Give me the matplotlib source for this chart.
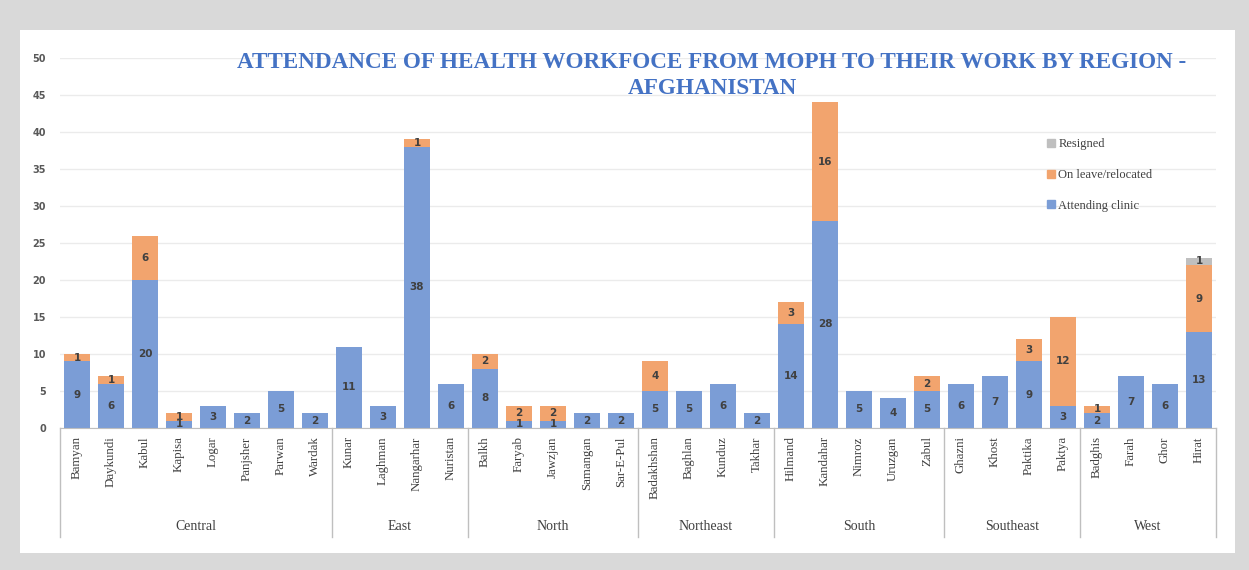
import matplotlib.pyplot as plt
from matplotlib.patches import Rectangle, Patch
from matplotlib.transforms import blended_transform_factory

# provinces grouped by region
regions = ["Central", "East", "North", "Northeast", "South", "Southeast", "West"]
region_sizes = [8, 4, 5, 4, 5, 4, 4]
provinces = ["Bamyan", "Daykundi", "Kabul", "Kapisa", "Logar", "Panjsher", "Parwan", "Wardak",
             "Kunar", "Laghman", "Nangarhar", "Nuristan",
             "Balkh", "Faryab", "Jawzjan", "Samangan", "Sar-E-Pul",
             "Badakhshan", "Baghlan", "Kunduz", "Takhar",
             "Hilmand", "Kandahar", "Nimroz", "Uruzgan", "Zabul",
             "Ghazni", "Khost", "Paktika", "Paktya",
             "Badghis", "Farah", "Ghor", "Hirat"]

attending = [9, 6, 20, 1, 3, 2, 5, 2,
             11, 3, 38, 6,
             8, 1, 1, 2, 2,
             5, 5, 6, 2,
             14, 28, 5, 4, 5,
             6, 7, 9, 3,
             2, 7, 6, 13]
on_leave = [1, 1, 6, 1, 0, 0, 0, 0,
            0, 0, 1, 0,
            2, 2, 2, 0, 0,
            4, 0, 0, 0,
            3, 16, 0, 0, 2,
            0, 0, 3, 12,
            1, 0, 0, 9]
resigned = [0] * 33 + [1]

blue = "#7b9dd6"
orange = "#f2a46e"
grey = "#bfbfbf"
txt = "#404040"

W, H = 1249, 570
fig = plt.figure(figsize=(W / 100, H / 100), dpi=100, facecolor="#d9d9d9")
fig.patches.append(Rectangle((20 / W, 1 - 553 / H), (1235 - 20) / W, (553 - 30) / H,
                             transform=fig.transFigure, facecolor="white", edgecolor="none", zorder=-5))

ax = fig.add_axes([60 / W, 1 - 428 / H, (1216 - 60) / W, (428 - 58) / H])
ax.set_facecolor("none")

x = list(range(len(provinces)))
bottom2 = [a + b for a, b in zip(attending, on_leave)]
b1 = ax.bar(x, attending, width=0.76, color=blue, zorder=2)
b2 = ax.bar(x, on_leave, width=0.76, bottom=attending, color=orange, zorder=2)
b3 = ax.bar(x, resigned, width=0.76, bottom=bottom2, color=grey, zorder=2)

for bars, vals in [(b1, attending), (b2, on_leave), (b3, resigned)]:
    ax.bar_label(bars, labels=[str(v) if v else "" for v in vals], label_type="center",
                 fontsize=7.5, fontweight="bold", color=txt)

ax.set_xlim(-0.5, len(provinces) - 0.5)
ax.set_ylim(0, 50)
ax.set_yticks(range(0, 51, 5))
ax.yaxis.grid(True, color="#ebebeb", lw=1, zorder=0)
ax.set_axisbelow(True)
for s in ["left", "right", "top"]:
    ax.spines[s].set_visible(False)
ax.spines["bottom"].set_color("#bfbfbf")
ax.tick_params(axis="y", length=0, pad=10, labelsize=7, labelcolor="#595959")
for t in ax.get_yticklabels():
    t.set_fontweight("bold")
ax.set_xticks(x)
ax.set_xticklabels(provinces, rotation=90, fontsize=9.3, family="Liberation Serif", color=txt)
ax.tick_params(axis="x", length=0, pad=6)

# region separators and names
tr = blended_transform_factory(ax.transData, ax.transAxes)
edge = -0.5
ax.plot([edge, edge], [0, -0.295], transform=tr, color="#bfbfbf", lw=1, clip_on=False)
for name, n in zip(regions, region_sizes):
    ax.text(edge + n / 2, -0.265, name, transform=tr, ha="center", va="center",
            fontsize=10, family="Liberation Serif", color=txt)
    edge += n
    ax.plot([edge, edge], [0, -0.295], transform=tr, color="#bfbfbf", lw=1, clip_on=False)

fig.text(712 / W, 1 - 52 / H,
         "ATTENDANCE OF HEALTH WORKFOCE FROM MOPH TO THEIR WORK BY REGION -\nAFGHANISTAN",
         ha="center", va="top", multialignment="center", fontsize=16.7, fontweight="bold",
         family="Liberation Serif", color="#4472c4", linespacing=1.3)

handles = [Patch(color=grey, label="Resigned"),
           Patch(color=orange, label="On leave/relocated"),
           Patch(color=blue, label="Attending clinic")]
fig.legend(handles=handles, loc="upper left", bbox_to_anchor=(1036 / W, 1 - 127 / H),
           frameon=False, prop={"family": "Liberation Serif", "size": 9},
           handlelength=0.6, handleheight=0.6, handletextpad=0.3, labelspacing=1.5,
           labelcolor=txt)

fig.savefig("out.png", dpi=100, facecolor=fig.get_facecolor())
